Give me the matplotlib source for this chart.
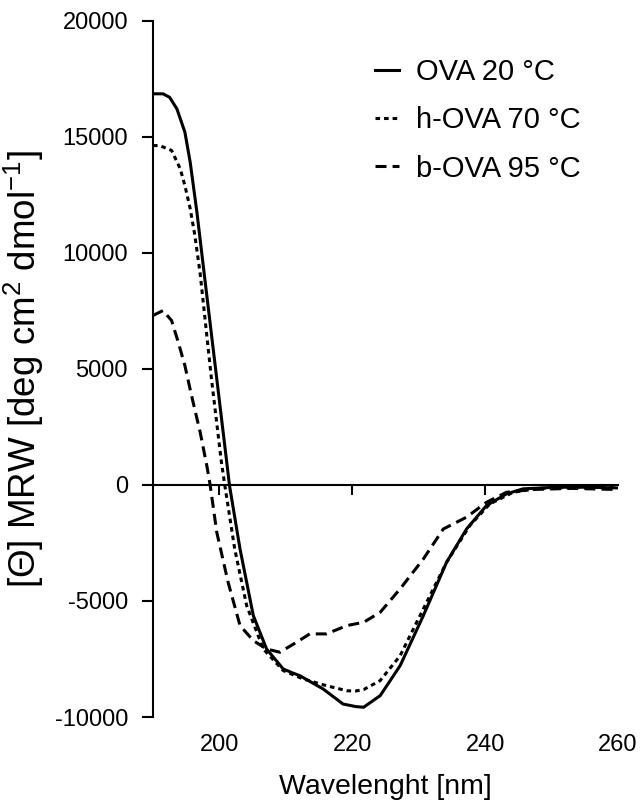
import matplotlib
matplotlib.use("Agg")
import matplotlib.pyplot as plt

plt.rcParams['font.family'] = ['Liberation Sans', 'DejaVu Sans']
plt.rcParams['mathtext.fontset'] = 'custom'
plt.rcParams['mathtext.rm'] = 'Liberation Sans'
plt.rcParams['mathtext.it'] = 'Liberation Sans:italic'
plt.rcParams['mathtext.bf'] = 'Liberation Sans:bold'

# ---- data ----
ova20_wl = [190, 191.5, 192.5, 193.6, 194.8, 195.6, 196.6, 197.8, 199.6, 201.1, 201.5,
            203.1, 205.1, 207.1, 209.6, 211.0, 212.1, 215.6, 218.6, 220.5, 221.7,
            224.2, 227.2, 230.7, 234.2, 237.2, 240.2, 243.2, 245.7, 250.8, 255, 260]
ova20_val = [16850, 16850, 16700, 16200, 15200, 13900, 11770, 8880, 4570, 980, 0,
             -2760, -5630, -7070, -7930, -8100, -8220, -8790, -9440, -9550, -9580,
             -9080, -7790, -5630, -3330, -1900, -890, -390, -170, -100, -100, -130]

hova70_wl = [190, 191, 192.8, 194.1, 194.8, 195.6, 196.3, 197.1, 198.8, 200.3, 200.8,
             202.3, 204.1, 206.6, 209.6, 212.6, 216.1, 219.2, 220.5, 221.7, 224.2,
             227.2, 230.7, 234.2, 237.7, 240.7, 244.2, 248, 254, 260]
hova70_val = [14620, 14620, 14410, 13620, 12900, 11900, 10750, 9100, 4570, 980, 0,
              -2760, -5200, -7070, -8000, -8360, -8650, -8870, -8880, -8820, -8430,
              -7360, -5340, -3330, -1750, -820, -320, -150, -100, -120]

bova95_wl = [190, 191.5, 192.8, 193.8, 194.8, 195.8, 197.1, 198.1, 198.6, 199.6, 201.3,
             203.1, 205.1, 207.1, 209.1, 211.6, 213.6, 216.1, 219.2, 221.7, 224.2,
             227.2, 230.7, 233.7, 237.2, 240.2, 243.2, 247, 253, 260]
bova95_val = [7300, 7510, 7080, 6150, 5140, 3850, 2270, 830, 0, -2040, -4190,
              -6060, -6710, -7070, -7210, -6780, -6420, -6420, -6060, -5920, -5490,
              -4480, -3190, -1900, -1390, -750, -320, -200, -150, -200]

series_labels = ['OVA 20 °C', 'h-OVA 70 °C', 'b-OVA 95 °C']
x_ticks = [200, 220, 240, 260]
y_ticks = [-10000, -5000, 0, 5000, 10000, 15000, 20000]

# ---- figure ----
W, H = 641, 801
fig = plt.figure(figsize=(W / 100, H / 100), dpi=100)
ax = fig.add_axes([153 / W, 84 / H, 465 / W, 696.3 / H])

lw = 2.2
ax.plot(ova20_wl, ova20_val, color='black', lw=lw, ls='-', label=series_labels[0],
        solid_joinstyle='round')
ax.plot(hova70_wl, hova70_val, color='black', lw=lw, ls=(0, (1.5, 1.3)), label=series_labels[1])
ax.plot(bova95_wl, bova95_val, color='black', lw=lw, ls=(0, (3.6, 2.0)), label=series_labels[2])

ax.set_xlim(190, 260)
ax.set_ylim(-10000, 20000)

for s in ['top', 'right', 'bottom']:
    ax.spines[s].set_visible(False)
ax.spines['left'].set_linewidth(1.5)

ax.set_yticks(y_ticks)
ax.set_yticklabels([str(v) for v in y_ticks])
ax.tick_params(axis='y', direction='out', length=8, width=1.5, labelsize=17, pad=10)

ax.set_xticks(x_ticks)
ax.set_xticklabels([str(v) for v in x_ticks])
ax.tick_params(axis='x', length=0, labelsize=17, pad=12)

# zero axis with ticks
sec = ax.secondary_xaxis(1 / 3)
sec.set_xticks(x_ticks[:-1])
sec.tick_params(axis='x', direction='out', length=7, width=1.5, labelbottom=False,
                labeltop=False)
for s in sec.spines.values():
    s.set_linewidth(1.5)

ax.set_xlabel('Wavelenght [nm]', fontsize=20.5, labelpad=13)
ax.set_ylabel('[Θ] MRW [deg cm$^{2}$ dmol$^{-1}$]', fontsize=26.5, labelpad=6)

ax.legend(loc='upper left', bbox_to_anchor=(0.4774, 0.9460), frameon=False,
          fontsize=21, handlelength=0.84, handletextpad=0.55, labelspacing=0.69,
          borderpad=0, borderaxespad=0)

fig.savefig('out.png', dpi=100)
